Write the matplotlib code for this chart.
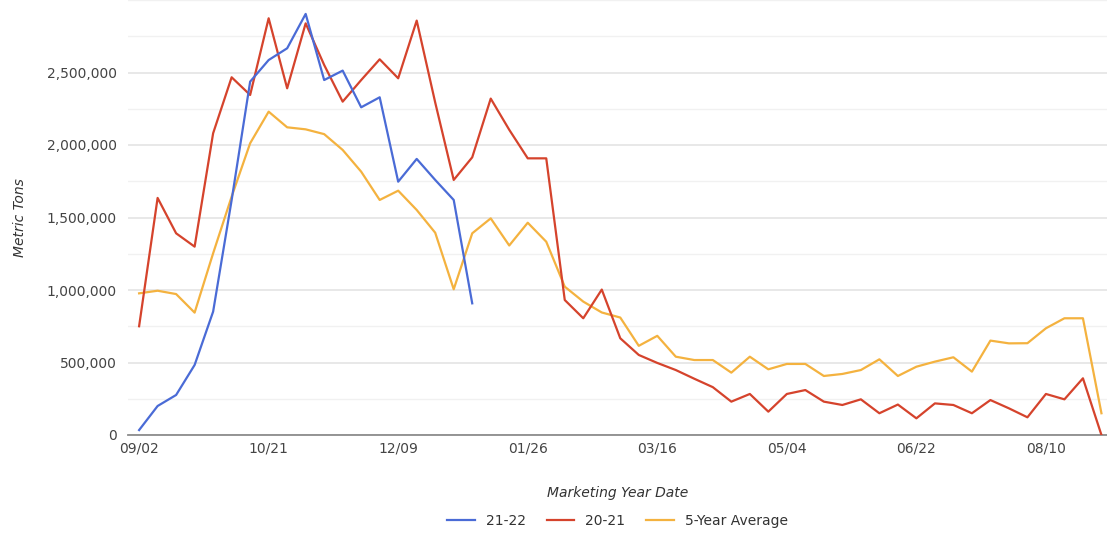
import matplotlib.pyplot as plt
from matplotlib.ticker import FuncFormatter, MultipleLocator

# weekly export totals, marketing year starting 09/02
weeks = ["09/02", "09/09", "09/16", "09/23", "09/30", "10/07", "10/14", "10/21", "10/28",
         "11/04", "11/11", "11/18", "11/25", "12/02", "12/09", "12/16", "12/23", "12/30",
         "01/06", "01/13", "01/20", "01/26", "02/02", "02/09", "02/16", "02/23", "03/02",
         "03/09", "03/16", "03/23", "03/30", "04/06", "04/13", "04/20", "04/27", "05/04",
         "05/11", "05/18", "05/25", "06/01", "06/08", "06/15", "06/22", "06/29", "07/06",
         "07/13", "07/20", "07/27", "08/03", "08/10", "08/17", "08/24", "08/31"]

tons_21_22 = [34000, 200000, 276000, 483000, 851000, 1620000, 2437000, 2586000, 2667000,
              2904000, 2448000, 2513000, 2260000, 2329000, 1747000, 1904000, 1759000,
              1621000, 908000]

tons_20_21 = [750000, 1635000, 1391000, 1299000, 2081000, 2467000, 2345000, 2874000, 2391000,
              2839000, 2552000, 2299000, 2448000, 2591000, 2460000, 2858000, 2293000,
              1759000, 1915000, 2320000, 2105000, 1908000, 1908000, 931000, 805000,
              1003000, 667000, 552000, 497000, 448000, 388000, 330000, 230000, 283000,
              161000, 283000, 310000, 230000, 207000, 246000, 150000, 210000, 115000,
              218000, 207000, 150000, 241000, 184000, 122000, 283000, 246000, 391000, 0]

tons_5yr = [977000, 995000, 972000, 844000, 1253000, 1644000, 2012000, 2230000, 2122000,
            2108000, 2075000, 1966000, 1816000, 1621000, 1685000, 1552000, 1395000,
            1005000, 1391000, 1494000, 1307000, 1464000, 1333000, 1023000, 920000, 845000,
            810000, 615000, 684000, 540000, 517000, 517000, 430000, 540000, 453000, 490000,
            490000, 407000, 421000, 448000, 522000, 407000, 471000, 506000, 536000, 437000,
            651000, 632000, 633000, 736000, 805000, 805000, 150000]

W, H = 1107, 539
fig = plt.figure(figsize=(W / 100, H / 100), dpi=100)
ax = fig.add_axes([128 / W, 1 - 435 / H, (W - 128) / W, 435 / H])

ax.plot(range(len(tons_21_22)), tons_21_22, color="#4a6bd6", lw=1.6, label="21-22", zorder=4)
ax.plot(range(len(tons_20_21)), tons_20_21, color="#d5432c", lw=1.6, label="20-21", zorder=3)
ax.plot(range(len(tons_5yr)), tons_5yr, color="#f4b23f", lw=1.6, label="5-Year Average", zorder=2)

ax.set_xlim(-0.6, 52.3)
ax.set_ylim(0, 3000000)

ticks = list(range(0, len(weeks), 7))
ax.set_xticks(ticks)
ax.set_xticklabels([weeks[i] for i in ticks])
# labelled ticks stop at 2.5M; the 250k minor grid runs to the top
ax.set_yticks([0, 500000, 1000000, 1500000, 2000000, 2500000])
ax.yaxis.set_minor_locator(MultipleLocator(250000))
ax.yaxis.set_major_formatter(FuncFormatter(lambda v, p: f"{int(v):,}"))

ax.grid(axis="y", which="major", color="#e4e4e4", lw=1.2)
ax.grid(axis="y", which="minor", color="#f1f1f1", lw=1.0)
ax.set_axisbelow(True)
for s in ["top", "right", "left"]:
    ax.spines[s].set_visible(False)
ax.spines["bottom"].set_color("#8c8c8c")
ax.spines["bottom"].set_linewidth(1.3)
ax.tick_params(axis="both", which="both", length=0, labelsize=10, labelcolor="#444444")
ax.tick_params(axis="y", pad=8)
ax.tick_params(axis="x", pad=5)

ax.set_xlabel("Marketing Year Date", fontsize=10, style="italic", color="#333333", labelpad=22)
ax.set_ylabel("Metric Tons", fontsize=10, style="italic", color="#333333", labelpad=14)

ax.legend(loc="center", bbox_to_anchor=(0.5, -0.198), ncol=3, frameon=False,
          fontsize=10, handlelength=2.0, columnspacing=1.5, labelcolor="#333333")

fig.savefig("out.png", dpi=100)
